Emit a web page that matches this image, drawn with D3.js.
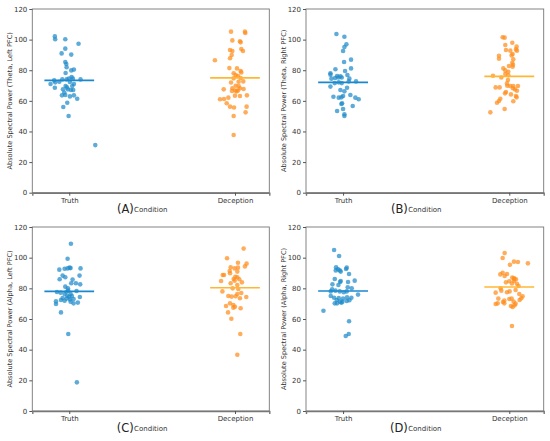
<!DOCTYPE html>
<html><head><meta charset="utf-8">
<script src="https://cdn.jsdelivr.net/npm/d3@7/dist/d3.min.js"></script>
<style>body{margin:0;background:#fff}svg{display:block}text{font-family:"DejaVu Sans",sans-serif}</style>
</head><body><svg id="c" width="550" height="441"></svg>
<script>
const categories = ["Truth", "Deception"];
const yTicks = [0, 20, 40, 60, 80, 100, 120];
const panelLetters = ["(A)", "(B)", "(C)", "(D)"];
const yTitles = ["Absolute Spectral Power (Theta, Left PFC)", "Absolute Spectral Power (Theta, Right PFC)",
                 "Absolute Spectral Power (Alpha, Left PFC)", "Absolute Spectral Power (Alpha, Right PFC)"];
// means [truth, deception] per panel
const means = [[73.4, 75.0], [72.1, 76.0], [78.0, 80.4], [78.3, 80.9]];
// points: [jitter, value]
const aTruth = [[-0.087,102.1],[-0.085,100.2],[-0.024,100.2],[0.056,97.3],[-0.024,94.1],[-0.046,91.0],[0.012,90.2],[-0.024,85.4],[-0.018,84.1],[-0.016,81.9],[0.012,79.9],[0.028,80.4],[-0.022,78.2],[0.014,75.6],[0.022,74.5],[0.068,74.0],[-0.091,73.4],[-0.042,74.0],[-0.016,74.0],[-0.002,74.5],[-0.113,71.0],[-0.085,72.1],[-0.06,72.5],[0.004,72.3],[-0.087,68.6],[-0.038,67.5],[-0.022,69.7],[-0.008,67.5],[0.01,67.1],[0.024,67.1],[0.028,71.0],[-0.044,63.6],[-0.024,63.8],[0.004,62.9],[0.028,63.6],[0.048,61.4],[-0.012,58.8],[-0.036,56.0],[-0.004,50.1],[0.157,31.1],[-0.014,68.8],[-0.03,65.5],[0.018,69.7]];
const aDec = [[-0.024,105.2],[0.06,105.2],[0.062,104.3],[-0.016,99.5],[0.03,98.9],[0.034,98.2],[-0.03,93.2],[-0.016,92.6],[0.038,93.9],[0.048,92.6],[-0.02,89.9],[-0.03,87.8],[-0.121,86.5],[-0.034,81.4],[0.012,81.2],[0.034,79.5],[0.038,78.6],[-0.008,78.0],[0.004,76.9],[0.018,76.2],[-0.008,74.7],[0.034,74.9],[0.022,72.5],[0.05,72.7],[-0.068,67.5],[-0.016,68.2],[0.004,69.9],[0.022,69.7],[0.03,68.2],[0.052,67.7],[0.002,66.8],[0.01,66.2],[0.018,66.8],[-0.018,66.4],[-0.04,62.1],[-0.066,61.2],[-0.09,61.0],[0.0,63.4],[0.03,63.2],[0.072,63.6],[-0.05,58.4],[-0.03,56.2],[-0.006,55.7],[0.07,56.2],[0.064,52.5],[-0.008,50.1],[-0.008,37.7],[-0.024,72.0]];
const bTruth = [[-0.04,103.7],[0.008,101.9],[0.02,96.9],[0.008,95.2],[0.0,92.6],[0.006,85.4],[0.048,86.9],[0.048,81.2],[-0.046,80.6],[0.012,79.5],[-0.076,78.0],[-0.076,77.1],[0.026,76.9],[-0.036,76.2],[-0.016,76.0],[-0.07,74.5],[-0.048,74.9],[-0.028,75.3],[-0.008,75.3],[0.038,74.5],[0.034,72.7],[0.078,72.7],[-0.05,71.6],[-0.026,72.1],[-0.008,71.6],[-0.076,69.3],[0.024,68.6],[-0.016,67.1],[0.008,66.2],[-0.058,62.7],[-0.026,62.1],[-0.01,62.3],[0.0,63.2],[0.044,63.8],[0.074,62.1],[0.094,61.0],[-0.006,58.4],[-0.01,57.9],[0.058,56.6],[0.0,54.7],[-0.036,53.4],[0.008,51.2],[0.008,50.1]];
const bDec = [[-0.04,101.5],[-0.028,101.3],[0.018,98.0],[-0.024,96.5],[0.044,95.4],[0.04,93.6],[-0.02,93.2],[0.006,92.8],[0.046,92.8],[0.02,90.6],[0.014,89.7],[-0.062,89.5],[-0.062,87.5],[0.024,87.1],[0.018,84.9],[0.022,83.6],[0.02,82.3],[-0.002,82.8],[-0.036,81.2],[-0.024,79.9],[-0.006,79.0],[-0.024,77.5],[-0.098,76.4],[-0.006,76.7],[-0.048,75.3],[-0.008,73.6],[-0.014,71.4],[-0.012,69.9],[0.006,69.7],[0.024,69.7],[0.052,69.7],[-0.082,68.8],[-0.058,68.8],[0.022,68.2],[0.034,67.5],[0.046,66.6],[-0.02,65.8],[-0.026,64.9],[0.01,64.2],[0.04,63.2],[0.044,62.3],[-0.054,61.4],[-0.062,59.9],[-0.074,58.8],[0.024,59.7],[-0.028,54.7],[-0.114,52.5]];
const cTruth = [[0.01,109.1],[-0.01,99.3],[-0.06,92.2],[-0.028,92.8],[-0.01,93.0],[0.002,93.5],[0.008,93.2],[0.068,93.0],[-0.058,85.9],[-0.04,88.3],[-0.024,87.2],[0.02,85.7],[0.062,88.3],[0.012,83.3],[0.04,83.3],[0.066,82.6],[-0.024,81.1],[-0.008,80.0],[-0.006,78.5],[-0.074,77.6],[-0.052,77.2],[0.044,78.3],[-0.028,76.3],[0.008,76.3],[-0.012,75.0],[0.016,75.0],[0.064,74.3],[-0.04,73.7],[-0.016,73.3],[0.004,72.8],[0.026,73.0],[-0.08,71.5],[-0.05,72.4],[-0.028,71.9],[-0.08,69.8],[0.008,71.3],[0.026,70.2],[0.052,70.7],[-0.05,64.3],[-0.006,50.2],[0.046,18.7],[0.0,74.5],[-0.016,77.8]];
const cDec = [[0.052,105.9],[-0.048,99.6],[0.07,96.1],[0.06,94.3],[0.018,96.7],[-0.026,93.7],[-0.002,93.0],[0.018,93.5],[-0.032,91.3],[0.014,90.9],[-0.03,89.8],[-0.074,88.7],[-0.066,88.7],[0.002,87.6],[-0.008,86.1],[0.014,87.2],[0.026,85.9],[-0.084,84.8],[0.042,83.9],[-0.026,83.3],[0.014,82.2],[-0.014,80.0],[-0.076,78.0],[-0.04,75.0],[-0.02,74.6],[0.014,76.3],[0.038,77.0],[0.068,74.3],[0.03,73.5],[0.004,74.8],[-0.03,70.2],[-0.01,69.1],[-0.054,68.5],[0.0,68.0],[-0.01,67.4],[0.034,67.0],[-0.042,64.3],[-0.022,60.2],[0.032,50.2],[0.014,36.7],[-0.002,85.0],[0.02,79.6]];
const dTruth = [[-0.054,105.0],[-0.024,101.1],[-0.042,93.7],[-0.03,92.4],[-0.02,91.7],[-0.014,90.9],[-0.044,91.7],[0.018,92.6],[0.022,93.5],[0.036,89.3],[-0.05,86.1],[-0.014,84.8],[-0.018,84.1],[0.07,85.0],[0.03,84.1],[-0.064,82.6],[-0.028,82.2],[0.052,80.0],[0.028,80.7],[-0.066,79.3],[-0.046,78.5],[-0.02,78.0],[0.004,77.4],[0.022,78.0],[-0.074,78.0],[0.09,75.9],[-0.074,75.0],[-0.054,73.9],[-0.026,73.6],[0.0,73.3],[0.024,74.1],[0.05,73.9],[-0.038,72.4],[-0.018,71.3],[-0.004,71.3],[0.022,71.7],[-0.05,70.2],[-0.036,70.2],[0.038,72.2],[-0.118,65.4],[0.036,58.5],[0.034,50.2],[0.016,48.9],[-0.01,70.6]];
const dDec = [[-0.028,103.0],[-0.04,99.8],[0.028,97.4],[0.052,97.2],[0.004,95.4],[0.112,96.3],[-0.04,90.2],[-0.014,89.3],[-0.028,88.0],[-0.054,89.1],[0.018,87.0],[0.028,86.5],[0.04,85.9],[0.0,84.6],[-0.02,83.9],[0.028,84.8],[0.046,83.0],[0.016,83.2],[0.056,81.5],[-0.052,80.0],[-0.048,78.5],[0.038,78.9],[-0.014,77.4],[0.002,78.0],[-0.082,77.2],[0.06,76.3],[0.08,74.8],[0.072,73.5],[0.062,72.4],[-0.066,73.3],[0.0,73.0],[0.014,73.3],[-0.03,72.0],[-0.038,71.1],[-0.03,70.2],[0.026,71.3],[0.038,70.0],[0.032,68.9],[-0.07,70.2],[-0.082,69.8],[0.01,68.5],[0.02,67.8],[0.016,55.4],[0.03,86.2]];
const panelData = [[aTruth, aDec], [bTruth, bDec], [cTruth, cDec], [dTruth, dDec]];

const ptColors = ["#1f8bc9", "#ff8d1c"];
const meanColors = ["#1a88cf", "#ffb733"];
const panels = [
  {x: 32.3, y: 9, w: 237, h: 183.7},
  {x: 306, y: 9, w: 237.7, h: 183.7},
  {x: 32.3, y: 227, w: 237, h: 184},
  {x: 306, y: 227, w: 237.7, h: 184}
];
const svg = d3.select("#c");
panels.forEach((p, i) => {
  const g = svg.append("g").attr("transform", `translate(${p.x},${p.y})`);
  const x = d3.scaleLinear().domain([-0.223, 1.207]).range([0, p.w]);
  const y = d3.scaleLinear().domain([0, 120]).range([p.h, 0]);
  panelData[i].forEach((pts, ci) => {
    g.append("g").selectAll("circle").data(pts).join("circle")
      .attr("cx", d => x(ci + d[0])).attr("cy", d => y(d[1])).attr("r", 2.3)
      .attr("fill", ptColors[ci]).attr("fill-opacity", 0.72);
  });
  means[i].forEach((m, ci) => {
    g.append("line").attr("x1", x(ci - 0.15)).attr("x2", x(ci + 0.15))
      .attr("y1", y(m)).attr("y2", y(m)).attr("stroke", meanColors[ci]).attr("stroke-width", 1.6);
  });
  g.append("rect").attr("width", p.w).attr("height", p.h).attr("fill", "none").attr("stroke", "#777").attr("stroke-width", 0.9);
  const ya = g.append("g").call(d3.axisLeft(y).tickValues(yTicks).tickSize(3).tickPadding(2));
  ya.select(".domain").remove();
  ya.selectAll("line").attr("stroke", "#555");
  ya.selectAll("text").attr("font-size", 7).attr("fill", "#333").style("font-family", "DejaVu Sans");
  const xa = g.append("g").attr("transform", `translate(0,${p.h})`)
    .call(d3.axisBottom(x).tickValues([0, 1]).tickFormat((d) => categories[d]).tickSize(3).tickPadding(2));
  xa.select(".domain").attr("stroke", "#777").attr("stroke-width", 1.4);
  xa.selectAll("line").attr("stroke", "#555");
  xa.selectAll("text").attr("font-size", 7).attr("fill", "#333").style("font-family", "DejaVu Sans");
  g.append("text").attr("transform", `translate(${-20.5},${p.h / 2}) rotate(-90)`)
    .attr("text-anchor", "middle").attr("font-size", 6.6).attr("fill", "#333").text(yTitles[i]);
  const cx = p.w / 2;
  g.append("text").attr("x", cx).attr("y", p.h + 19.5).attr("text-anchor", "middle")
    .attr("font-size", 7).attr("fill", "#333").text("Condition");
  g.append("text").attr("x", cx - 17).attr("y", p.h + 20.5).attr("text-anchor", "end")
    .attr("font-size", 11.5).attr("fill", "#222").text(panelLetters[i]);
});
</script></body></html>
